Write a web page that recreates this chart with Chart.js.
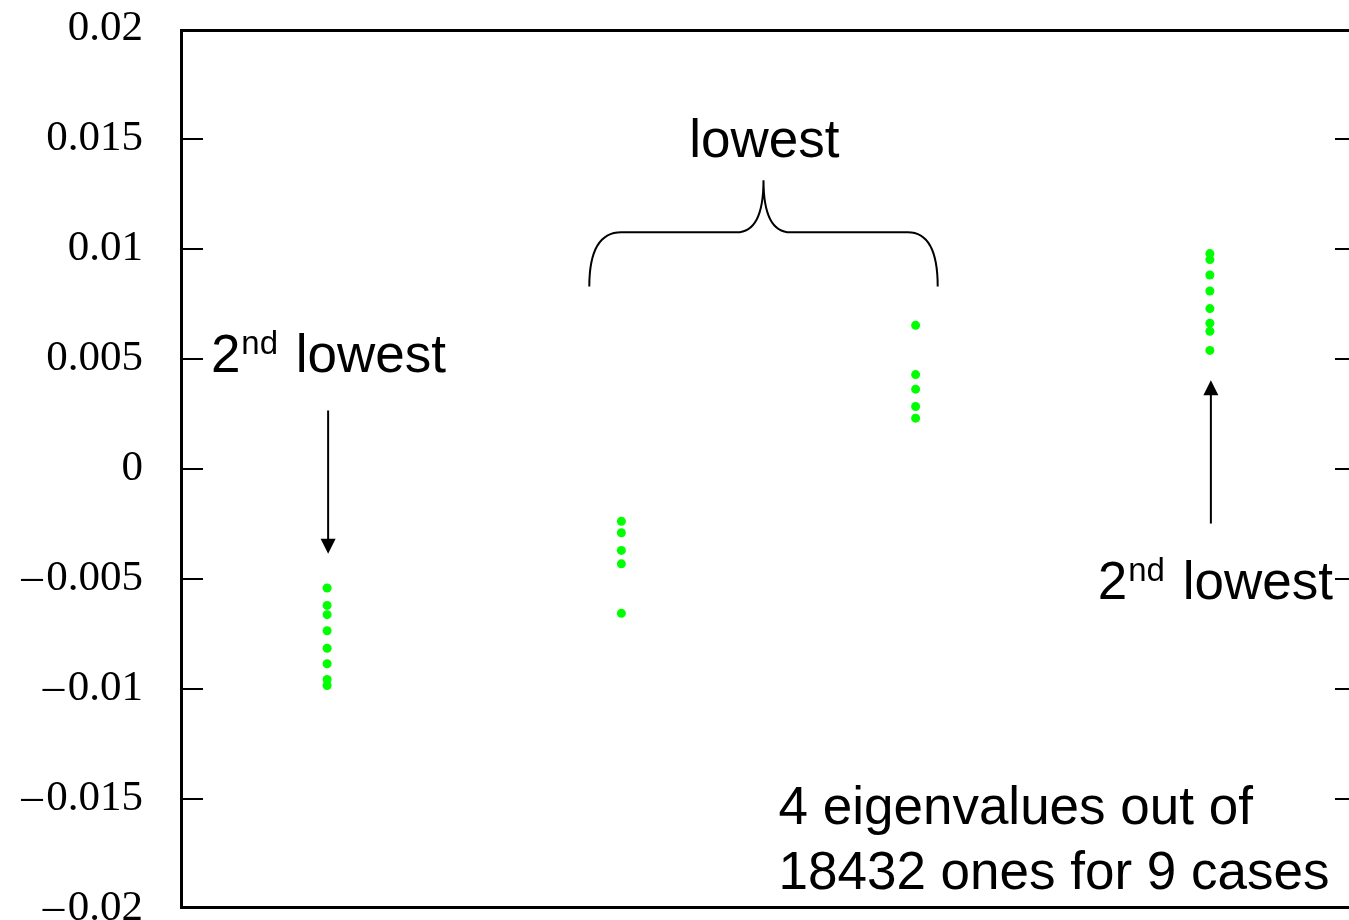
<!DOCTYPE html>
<html>
<head>
<meta charset="utf-8">
<title>Eigenvalues</title>
<script src="https://cdn.jsdelivr.net/npm/chart.js@4.4.1/dist/chart.umd.min.js"></script>
<style>
    html, body { margin: 0; padding: 0; background: #fff; overflow: hidden; }
    #wrap { position: relative; width: 1349px; height: 920px; overflow: hidden; }
    #eigChart { position: absolute; left: 0; top: 0; }
</style>
</head>
<body>
<div id="wrap"><canvas id="eigChart" width="1365" height="920"></canvas></div>
<script>
// one column per eigenvalue, one dot per case
const columns = [1, 2, 3, 4];
const eigA = [-0.00541, -0.00620, -0.00662, -0.00735, -0.00815, -0.00885, -0.00957, -0.00984];
const eigB = [-0.00238, -0.00290, -0.00370, -0.00431, -0.00656];
const eigC = [0.00653, 0.00429, 0.00363, 0.00284, 0.00231];
const eigD = [0.00979, 0.00952, 0.00882, 0.00809, 0.00729, 0.00663, 0.00626, 0.00539];

const yTicks = [-0.02, -0.015, -0.01, -0.005, 0, 0.005, 0.01, 0.015, 0.02];
const yTickLabels = ["\u2013\u200a0.02", "\u2013\u200a0.015", "\u2013\u200a0.01", "\u2013\u200a0.005", "0", "0.005", "0.01", "0.015", "0.02"];

const sans = '"Liberation Sans", Arial, sans-serif';

const series = [eigA, eigB, eigC, eigD];

const datasets = series.map((vals, i) => ({
    data: vals.map(v => ({ x: columns[i], y: v })),
    backgroundColor: '#00ff00',
    borderWidth: 0,
    pointRadius: 4.5,
    pointHoverRadius: 4.5
}));

/* frame with inward ticks */
const framePlugin = {
    id: 'frame',
    afterDatasetsDraw(chart) {
        const { ctx, chartArea: a, scales: { y } } = chart;
        ctx.save();
        ctx.strokeStyle = '#000';
        ctx.lineWidth = 2;
        yTicks.slice(1, -1).forEach(v => {
            const py = Math.round(y.getPixelForValue(v));
            ctx.beginPath();
            ctx.moveTo(a.left, py);
            ctx.lineTo(a.left + 23, py);
            ctx.moveTo(a.right - 22, py);
            ctx.lineTo(a.right, py);
            ctx.stroke();
        });
        ctx.lineWidth = 3;
        ctx.strokeRect(a.left + 1.5, a.top + 1.5, a.right - a.left - 3, a.bottom - a.top - 3);
        ctx.restore();
    }
};

function drawOrdinal(ctx, x, y) {
    ctx.font = '53px ' + sans;
    ctx.fillText('2', x, y);
    let cx = x + ctx.measureText('2').width + 1;
    ctx.font = '33px ' + sans;
    ctx.fillText('nd', cx, y - 18);
    cx += ctx.measureText('nd').width + 3;
    ctx.font = '53px ' + sans;
    ctx.fillText(' lowest', cx, y);
}

function drawArrow(ctx, x, y0, y1) {
    const dir = y1 > y0 ? 1 : -1;
    ctx.beginPath();
    ctx.moveTo(x, y0);
    ctx.lineTo(x, y1 - dir * 12);
    ctx.stroke();
    ctx.beginPath();
    ctx.moveTo(x, y1);
    ctx.lineTo(x - 7.5, y1 - dir * 15);
    ctx.lineTo(x + 7.5, y1 - dir * 15);
    ctx.closePath();
    ctx.fill();
}

/* labels, arrows and the brace */
const notesPlugin = {
    id: 'notes',
    afterDraw(chart) {
        const { ctx, scales: { x, y } } = chart;
        const px = v => x.getPixelForValue(v);
        const py = v => y.getPixelForValue(v);
        ctx.save();
        ctx.fillStyle = '#000';
        ctx.strokeStyle = '#000';
        ctx.textBaseline = 'alphabetic';

        ctx.font = '53px ' + sans;
        ctx.textAlign = 'center';
        ctx.fillText('lowest', px(2.486), py(0.0142));

        ctx.textAlign = 'left';
        drawOrdinal(ctx, px(0.605), py(0.00439));
        drawOrdinal(ctx, px(3.619), py(-0.00589));

        ctx.font = '53px ' + sans;
        ctx.fillText('4 eigenvalues out of', px(2.534), py(-0.01613));
        ctx.fillText('18432 ones for 9 cases', px(2.534), py(-0.01909));

        ctx.lineWidth = 2;
        drawArrow(ctx, px(1) + 1, py(0.00266), py(-0.00385));
        drawArrow(ctx, px(4) + 1, py(-0.00248), py(0.00403));

        // brace over the middle two columns
        const L = px(1.891), R = px(3.075), M = px(2.483);
        const yb = py(0.0083), yh = py(0.01076), yt = py(0.01313);
        ctx.lineWidth = 2;
        ctx.beginPath();
        ctx.moveTo(L, yb);
        ctx.quadraticCurveTo(L, yh, L + 32, yh);
        ctx.lineTo(M - 27, yh);
        ctx.quadraticCurveTo(M, yh, M, yt);
        ctx.quadraticCurveTo(M, yh, M + 27, yh);
        ctx.lineTo(R - 30, yh);
        ctx.quadraticCurveTo(R, yh, R, yb);
        ctx.stroke();
        ctx.restore();
    }
};

new Chart(document.getElementById('eigChart'), {
    type: 'scatter',
    data: { datasets: datasets },
    options: {
        responsive: false,
        animation: false,
        layout: { padding: { top: 29, bottom: 11, left: 0, right: 8 } },
        plugins: {
            legend: { display: false },
            tooltip: { enabled: false }
        },
        scales: {
            x: {
                type: 'linear',
                min: 0.5,
                max: 4.5,
                display: false
            },
            y: {
                min: -0.02,
                max: 0.02,
                afterBuildTicks: scale => {
                    scale.ticks = yTicks.map(v => ({ value: v }));
                },
                afterFit: scale => {
                    scale.width = 180;
                    scale.paddingTop = 0;
                    scale.paddingBottom = 0;
                },
                grid: { display: false, drawTicks: false },
                border: { display: false },
                ticks: {
                    padding: 37,
                    color: '#000',
                    font: { family: '"Liberation Serif", "DejaVu Serif", serif', size: 43 },
                    callback: (v, i) => yTickLabels[i]
                }
            }
        }
    },
    plugins: [framePlugin, notesPlugin]
});
</script>
</body>
</html>
